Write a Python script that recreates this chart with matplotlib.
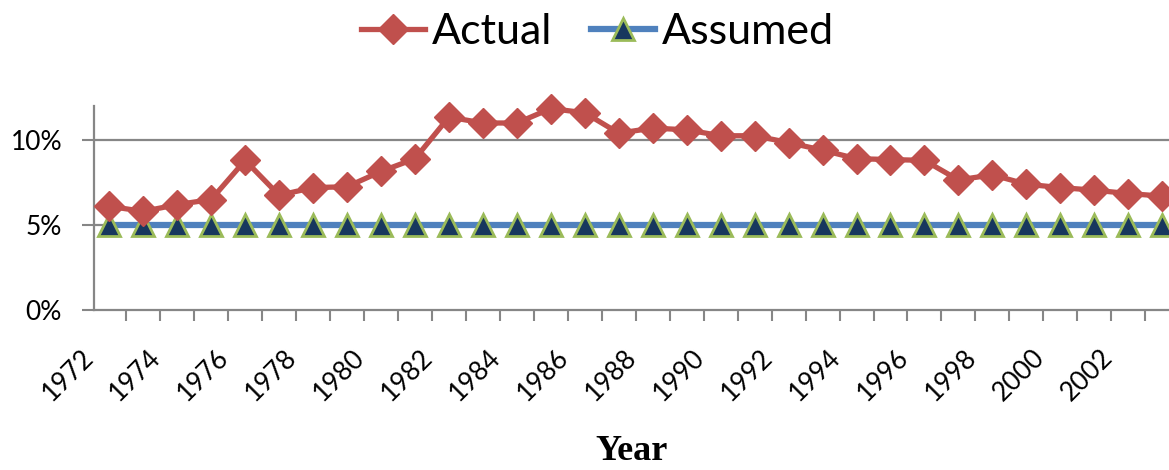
import matplotlib
matplotlib.use("Agg")
import matplotlib.pyplot as plt
from matplotlib.ticker import FixedLocator, PercentFormatter
from matplotlib.transforms import ScaledTranslation

# Data
YEARS = list(range(1972, 2004))
ACTUAL = [6.1, 5.8, 6.2, 6.5, 8.8, 6.75, 7.2, 7.25, 8.15, 8.9,
          11.35, 11.0, 11.0, 11.85, 11.6, 10.4, 10.7, 10.6, 10.25, 10.25,
          9.85, 9.4, 8.9, 8.85, 8.8, 7.65, 7.95, 7.4, 7.2, 7.05,
          6.85, 6.7]
ASSUMED = [5.0] * len(YEARS)
LABEL_YEARS = YEARS[::2]

RED = "#C0504D"
BLUE = "#4F81BD"
NAVY = "#17375E"
GREEN_EDGE = "#9BBB59"
GREY = "#868686"

plt.rcParams["font.family"] = ["Lato", "DejaVu Sans"]

fig = plt.figure(figsize=(11.69, 4.70), dpi=100)
ax = fig.add_axes([94 / 1169, 1 - 310 / 470, 1 - 94 / 1169, 204 / 470])

x = list(range(len(YEARS)))
ax.plot(x, ASSUMED, color=BLUE, linewidth=4.5, marker="^", markersize=16,
        markerfacecolor=NAVY, markeredgecolor=GREEN_EDGE, markeredgewidth=2,
        label="Assumed", zorder=3, clip_on=False)
ax.plot(x, ACTUAL, color=RED, linewidth=3.8, marker="D", markersize=15.5,
        markerfacecolor=RED, markeredgecolor=RED, label="Actual", zorder=4,
        clip_on=False)

ax.set_xlim(-0.45, 31.2)
ax.set_ylim(0, 12)

ax.yaxis.set_major_locator(FixedLocator([0, 5, 10]))
ax.yaxis.set_major_formatter(PercentFormatter(decimals=0))
ax.tick_params(axis="y", length=9, width=1.5, color=GREY, pad=14, labelsize=19)
for yv in [5, 10]:
    ax.axhline(yv, color=GREY, linewidth=1.6, zorder=1)

# category boundaries get the tick marks, labels sit on every other year
ax.xaxis.set_minor_locator(FixedLocator([i - 0.5 for i in range(len(YEARS) + 1)]))
ax.xaxis.set_major_locator(FixedLocator([YEARS.index(y) for y in LABEL_YEARS]))
ax.set_xticklabels([str(y) for y in LABEL_YEARS], rotation=45, ha="right", va="top")
ax.tick_params(axis="x", which="major", length=0, pad=25, labelsize=19)
ax.tick_params(axis="x", which="minor", length=8, width=1.5, color=GREY)
off = ScaledTranslation(-8 / 72, 0, fig.dpi_scale_trans)
for lbl in ax.get_xticklabels():
    lbl.set_transform(lbl.get_transform() + off)

for side in ["top", "right"]:
    ax.spines[side].set_visible(False)
for side in ["left", "bottom"]:
    ax.spines[side].set_color(GREY)
    ax.spines[side].set_linewidth(1.6)

handles, labels = ax.get_legend_handles_labels()
fig.legend(handles[::-1], labels[::-1], loc="center", bbox_to_anchor=(0.511, 0.932),
           ncol=2, frameon=False, fontsize=31, handlelength=1.5,
           handletextpad=0.15, columnspacing=0.9)

fig.text(0.54, 1 - 452 / 470, "Year", ha="center", va="center",
         fontsize=26, fontweight="bold", family=["Liberation Serif", "DejaVu Serif"])

fig.savefig("out.png", dpi=100)
